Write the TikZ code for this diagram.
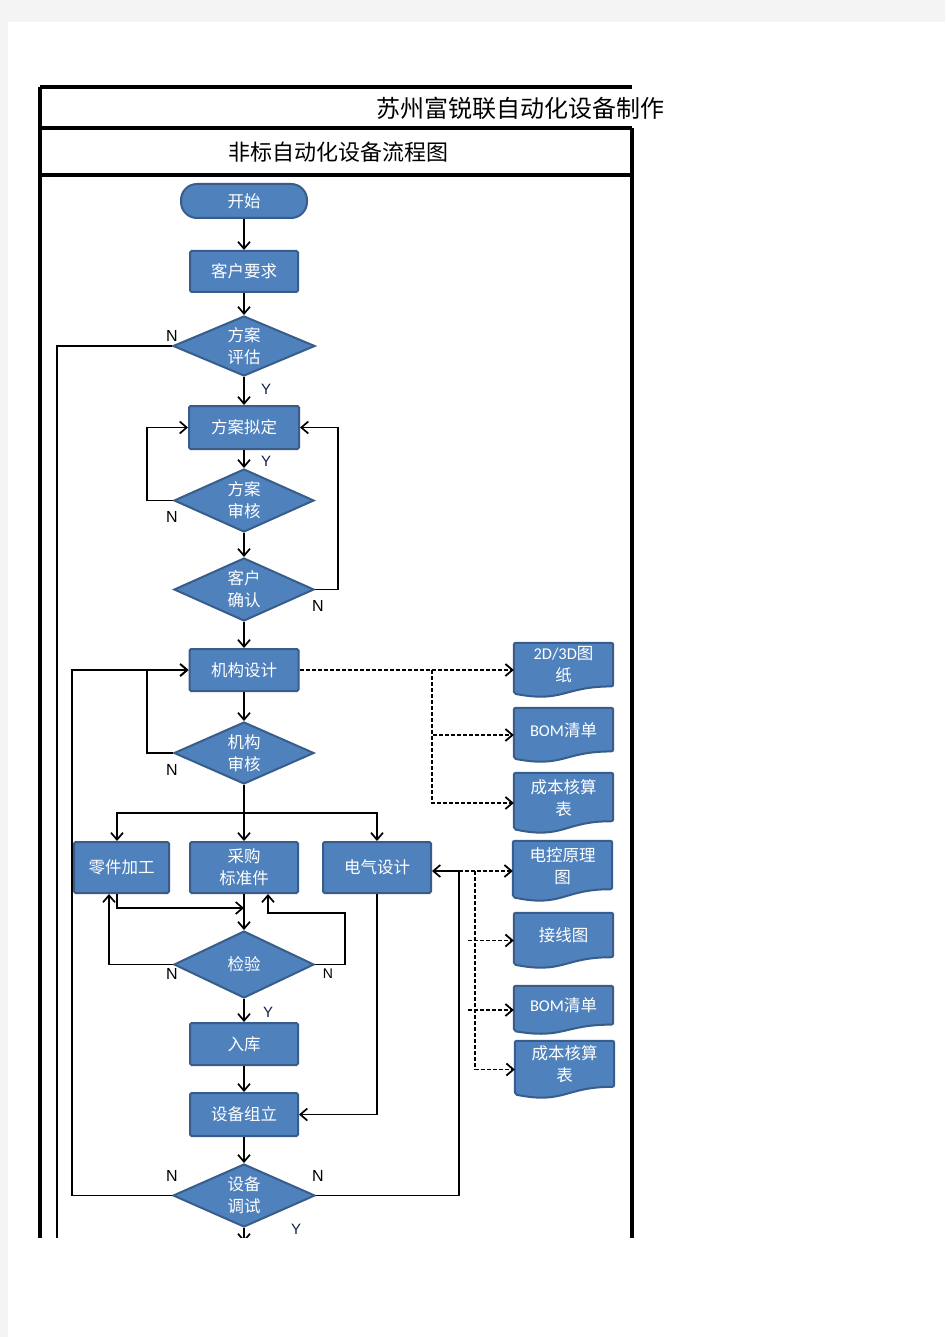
\documentclass[tikz,border=0pt]{standalone}
\usepackage{fontspec}
\usetikzlibrary{arrows.meta,shapes.geometric,calc}
\setmainfont{Liberation Sans}
\newfontfamily\cjk{Noto Sans CJK SC}
\newfontfamily\calib{Carlito}
\definecolor{boxfill}{HTML}{4F81BD}
\definecolor{boxline}{HTML}{385D8A}
\definecolor{pagegray}{HTML}{F4F4F4}
\definecolor{ycol}{HTML}{14204A}
\pgfdeclarelayer{bg}
\pgfsetlayers{bg,main}
\newcommand\docshape[1]{%
  \begin{pgfonlayer}{bg}
  \path[docpath] let \p1=(#1.north west), \p2=(#1.south east) in
    (\x1,\y1) -- (\x2,\y1) -- (\x2,{\y1-0.802*(\y1-\y2)})
    .. controls ({0.5*(\x1+\x2)},{\y1-0.802*(\y1-\y2)}) and ({0.5*(\x1+\x2)},{\y1-1.1075*(\y1-\y2)}) .. (\x1,{\y1-0.934*(\y1-\y2)}) -- cycle;
  \end{pgfonlayer}}
\tikzset{
  box/.style={rectangle, fill=boxfill, draw=boxline, line width=2pt, rounded corners=1.5pt, text=white, inner sep=0pt, align=center, font=\cjk\fontsize{16.5}{22}\selectfont},
  startbox/.style={box, rounded corners=16pt},
  dia/.style={diamond, aspect=2.2, fill=boxfill, draw=boxline, line width=2pt, text=white, inner sep=0pt, align=center, font=\cjk\fontsize{16.5}{22}\selectfont},
  docn/.style={rectangle, minimum width=99pt, inner sep=0pt, draw=none},
  doctext/.style={text=white, align=center, font=\cjk\fontsize{16.5}{22}\selectfont, yshift=5pt, inner sep=0pt},
  docpath/.style={fill=boxfill, draw=boxline, line width=2pt, rounded corners=2pt},
  con/.style={draw=black, line width=1.7pt},
  arr/.style={con, -{Straight Barb[length=7pt,width=12pt]}},
  darr/.style={con, line width=1.8pt, dash pattern=on 4pt off 2pt, -{Straight Barb[length=7pt,width=12pt]}},
  yn/.style={font=\fontsize{16}{16}\selectfont, text=black, inner sep=0pt},
  yy/.style={font=\fontsize{15}{15}\selectfont, text=ycol, inner sep=0pt},
  frame/.style={draw=black, line width=3.2pt}
}
\begin{document}
\begin{tikzpicture}[x=1pt,y=-1pt]
\begin{pgfonlayer}{bg}
\fill[pagegray] (0,0) rectangle (945,1337);
\fill[white] (8,22) rectangle (945,1337);
\end{pgfonlayer}
\useasboundingbox (0,0) rectangle (945,1337);

\node[font=\cjk\fontsize{24}{24}\selectfont, inner sep=0pt] (t1) at (520.5,108) {苏州富锐联自动化设备制作};
\node[font=\cjk\fontsize{22}{22}\selectfont, inner sep=0pt] (t2) at (338,152) {非标自动化设备流程图};

% document shapes
\node[docn, minimum height=54pt, label={[doctext]center:{\calib 2D/3D}图\\纸}] (d1) at (563.5,670) {};
\node[docn, minimum height=54pt, label={[doctext]center:{\calib BOM}清单}] (d2) at (563.5,735) {};
\node[docn, minimum height=60pt, label={[doctext]center:成本核算\\表}] (d3) at (563.5,803) {};
\node[docn, minimum height=60pt, label={[doctext]center:电控原理\\图}] (d4) at (562.5,871) {};
\node[docn, minimum height=55pt, label={[doctext]center:接线图}] (d5) at (563.5,940.5) {};
\node[docn, minimum height=48pt, label={[doctext]center:{\calib BOM}清单}] (d6) at (563.5,1010) {};
\node[docn, minimum height=57pt, label={[doctext]center:成本核算\\表}] (d7) at (564.5,1069.5) {};
\docshape{d1}\docshape{d2}\docshape{d3}\docshape{d4}\docshape{d5}\docshape{d6}\docshape{d7}

\begin{scope}
\clip (0,22) rectangle (945,1237.5);
% frame
\draw[frame] (40,87) -- (632,87);
\draw[frame] (40,87) -- (40,1245);
\draw[frame] (40,128) -- (632,128);
\draw[frame] (40,175) -- (632,175);
\draw[frame] (632,128) -- (632,1245);

% nodes
\node[startbox, minimum width=126pt, minimum height=34pt] (ks) at (244,201) {开始};
\node[box, minimum width=108pt, minimum height=41pt] (kh) at (244,271.5) {客户要求};
\node[dia, minimum width=142pt, minimum height=60pt] (pg) at (244,346) {方案\\评估};
\node[box, minimum width=110pt, minimum height=43pt] (nd) at (244,427.5) {方案拟定};
\node[dia, minimum width=140pt, minimum height=63pt] (sh) at (244,500.5) {方案\\审核};
\node[dia, minimum width=140pt, minimum height=63pt] (qr) at (244,589.5) {客户\\确认};
\node[box, minimum width=109pt, minimum height=42pt] (jg) at (244,670) {机构设计};
\node[dia, minimum width=140pt, minimum height=62pt] (js) at (244,753) {机构\\审核};
\node[box, minimum width=95pt, minimum height=51pt] (lj) at (121.5,867.5) {零件加工};
\node[box, minimum width=108pt, minimum height=51pt] (cg) at (244,867.5) {采购\\标准件};
\node[box, minimum width=108pt, minimum height=51pt] (dq) at (377,867.5) {电气设计};
\node[dia, minimum width=140pt, minimum height=67pt] (jy) at (244,964.5) {检验};
\node[box, minimum width=108pt, minimum height=42pt] (rk) at (244,1044) {入库};
\node[box, minimum width=108pt, minimum height=43pt] (zl) at (244,1114.5) {设备组立};
\node[dia, minimum width=142pt, minimum height=63pt] (ts) at (244,1195.5) {设备\\调试};

% helper coordinates
\coordinate (l1b) at (57,1250);
\coordinate (c1) at (147,0);
\coordinate (c2) at (338,0);
\coordinate (c3) at (72,0);
\coordinate (c4) at (0,813);
\coordinate (c5) at (0,908);
\coordinate (c6) at (345,913);
\coordinate (c7) at (244,1242);
\coordinate (r1) at (459,871);
\coordinate (b1) at (432,670);
\coordinate (b2) at (475,871);
\coordinate (b3) at (468,0);

% solid connectors
\draw[arr] (ks.south) -- (kh.north);
\draw[arr] (kh.south) -- (pg.north);
\draw[arr] (pg.south) -- (nd.north);
\draw[con] (pg.west) -| (l1b);
\draw[arr] (sh.west) -| (c1 |- nd.west) -- (nd.west);
\draw[arr] (nd.south) -- (sh.north);
\draw[arr] (sh.south) -- (qr.north);
\draw[arr] (qr.east) -| (c2 |- nd.east) -- (nd.east);
\draw[arr] (qr.south) -- (jg.north);
\draw[arr] (jg.south) -- (js.north);
\draw[arr] (js.west) -| (c1 |- jg.west) -- (jg.west);
\draw[arr] (ts.west) -| (c3 |- jg.west) -- (jg.west);
\draw[arr] (js.south) -- (cg.north);
\draw[arr] (js.south |- c4) -| ([xshift=-4.5pt]lj.north);
\draw[arr] (js.south |- c4) -| (dq.north);
\draw[arr] ([xshift=-4.5pt]lj.south) |- (cg.south |- c5);
\draw[arr] (cg.south) -- (jy.north);
\draw[arr] (jy.west) -| ([xshift=-12.5pt]lj.south);
\draw[arr] (jy.east) -| (c6) -| ([xshift=24pt]cg.south);
\draw[arr] (jy.south) -- (rk.north);
\draw[arr] (rk.south) -- (zl.north);
\draw[arr] (dq.south) |- (zl.east);
\draw[arr] (zl.south) -- (ts.north);
\draw[arr] (ts.east) -| (r1) -- ([yshift=-3.5pt]dq.east);
\draw[arr] (ts.south) -- (c7);

% dashed connectors
\draw[darr] (jg.east) -- (jg.east -| d1.west);
\draw[darr] (b1) |- (d2.west);
\draw[darr] (b1) |- (d3.west);
\draw[darr] (r1) -- (d4.west);
\draw[darr] (b2) |- (d7.west);
\draw[darr] (b3 |- d5.west) -- (d5.west);
\draw[darr] (b3 |- d6.west) -- (d6.west);

% Y / N labels
\node[yn] (n1) at (172,336) {N};
\node[yy] (y1) at (266,389) {Y};
\node[yy] (y2) at (266,461) {Y};
\node[yn] (n2) at (172,517) {N};
\node[yn] (n3) at (318,606) {N};
\node[yn] (n4) at (172,770) {N};
\node[yn] (n5) at (172,974) {N};
\node[yn, font=\fontsize{14}{14}\selectfont] (n6) at (328,974) {N};
\node[yy] (y3) at (268,1012) {Y};
\node[yn] (n7) at (172,1176) {N};
\node[yn] (n8) at (318,1176) {N};
\node[yy] (y4) at (296,1229) {Y};
\end{scope}
\end{tikzpicture}
\end{document}
